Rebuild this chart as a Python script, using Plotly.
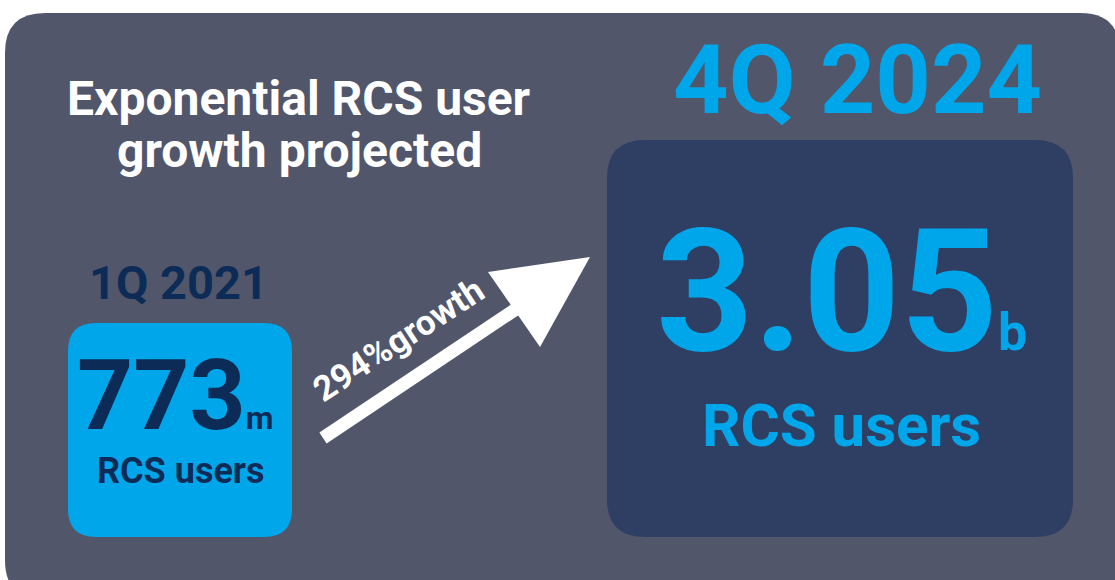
import plotly.graph_objects as go

# RCS user counts at the two reference quarters
periods = ["1Q 2021", "4Q 2024"]
user_values = ["773", "3.05"]
user_units = ["m", "b"]
growth_pct = 294
title_lines = ["Exponential RCS user", "growth projected"]

SLATE = "#51566b"
NAVY_BOX = "#2e3f63"
CYAN = "#00a6ea"
NAVY_TEXT = "#0c2c57"
FONT = "Roboto"


def rounded_rect(x0, y0, x1, y1, r):
    """SVG path for a rounded rectangle (y grows downward)."""
    return (
        f"M {x0 + r},{y0} L {x1 - r},{y0} Q {x1},{y0} {x1},{y0 + r} "
        f"L {x1},{y1 - r} Q {x1},{y1} {x1 - r},{y1} "
        f"L {x0 + r},{y1} Q {x0},{y1} {x0},{y1 - r} "
        f"L {x0},{y0 + r} Q {x0},{y0} {x0 + r},{y0} Z"
    )


fig = go.Figure()

shapes = [
    dict(type="path", path=rounded_rect(5, 13, 1120, 600, 40), fillcolor=SLATE, line_width=0),
    dict(type="path", path=rounded_rect(68, 323, 292, 537, 28), fillcolor=CYAN, line_width=0),
    dict(type="path", path=rounded_rect(607, 140, 1073, 537, 38), fillcolor=NAVY_BOX, line_width=0),
    # growth arrow
    dict(type="line", x0=323, y0=438, x1=516, y1=309, line=dict(color="white", width=13)),
    dict(type="path", path="M 488,272 L 590,257 L 540,347 Z", fillcolor="white", line_width=0),
]
for s in shapes:
    s.update(xref="x", yref="y", layer="below")
    fig.add_shape(**s)


def label(x, y, text, size, color, angle=0):
    fig.add_annotation(
        x=x, y=y, xref="x", yref="y", text=text, showarrow=False,
        xanchor="center", yanchor="middle", textangle=angle, borderpad=0,
        font=dict(family=FONT, size=size, color=color, weight="bold"),
    )


label(299, 98, title_lines[0], 48, "white")
label(299, 150, title_lines[1], 48, "white")

# left: start quarter
label(178, 282, periods[0], 47, NAVY_TEXT)
label(175, 395, f"{user_values[0]}<span style='font-size:32px'>{user_units[0]}</span>", 98, NAVY_TEXT)
label(181, 471, "RCS users", 36, NAVY_TEXT)

# right: projected quarter
label(857, 80, periods[1], 97, CYAN)
label(841, 292, f"{user_values[1]}<span style='font-size:52px'>{user_units[1]}</span>", 170, CYAN)
label(841, 425, "RCS users", 60, CYAN)

label(398, 340, f"{growth_pct}%growth", 35, "white", angle=-33)

fig.update_xaxes(range=[0, 1115], visible=False, fixedrange=True)
fig.update_yaxes(range=[580, 0], visible=False, fixedrange=True)
fig.update_layout(
    width=1115,
    height=580,
    margin=dict(l=0, r=0, t=0, b=0),
    paper_bgcolor="white",
    plot_bgcolor="white",
    showlegend=False,
)

fig.write_html(
    "out.html",
    config={"displayModeBar": False},
    post_script="document.body.style.margin = '0';",
)
